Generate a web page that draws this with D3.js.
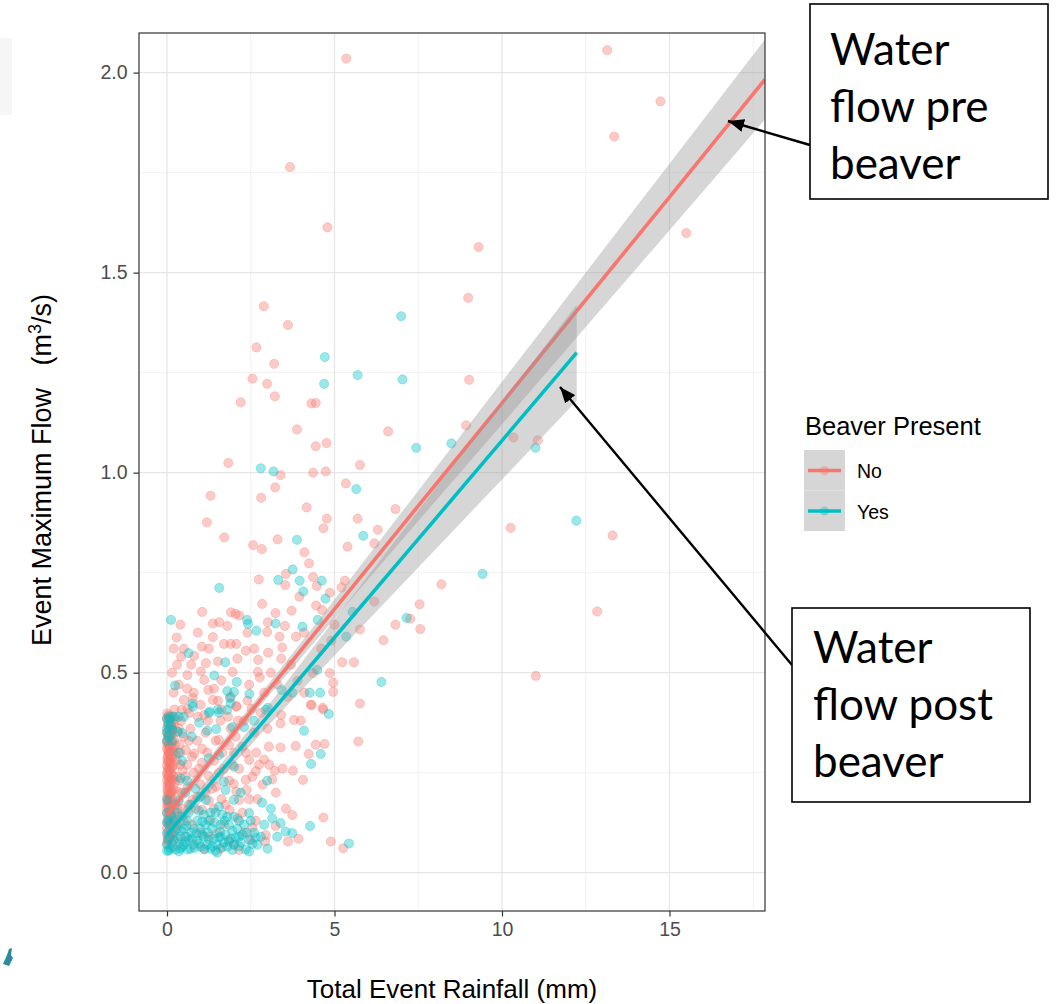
<!DOCTYPE html>
<html><head><meta charset="utf-8">
<script src="https://cdn.jsdelivr.net/npm/d3@7"></script>
<style>body{margin:0;background:#fff;} svg{display:block;}</style>
</head><body>
<svg id="chart" width="1059" height="1004"></svg>
<script>
// ---------- data ----------
const xTicks = [0, 5, 10, 15];
const yTicks = [0, 0.5, 1.0, 1.5, 2.0];
const xMinor = [2.5, 7.5, 12.5, 17.5];
const yMinor = [0.25, 0.75, 1.25, 1.75];
const groups = ["No", "Yes"];
const groupColors = ["#F8766D", "#00BFC4"];
const legendTitle = "Beaver Present";
const xTitle = "Total Event Rainfall (mm)";

// Beaver Present = No  [rainfall, max flow]
const noPoints = [
 [5.35,2.035],[3.67,1.764],[4.79,1.613],[2.89,1.416],[3.61,1.369],[2.67,1.313],[3.20,1.272],[2.55,1.235],[2.99,1.222],[3.22,1.191],
 [2.20,1.176],[4.31,1.173],[4.44,1.174],[3.88,1.108],[6.60,1.103],[4.44,1.066],[4.76,1.074],[1.83,1.024],[5.76,1.019],[4.36,1.000],
 [4.74,1.003],[3.39,0.994],[13.14,2.056],[14.73,1.928],[13.35,1.84],[9.30,1.564],[15.50,1.599],[8.99,1.437],[9.02,1.232],[8.93,1.118],
 [10.34,1.088],[11.07,1.081],[10.26,0.862],[13.30,0.843],[12.84,0.653],[11.01,0.492],
 [3.23,0.963],[1.30,0.942],[2.81,0.937],[5.34,0.973],[4.17,0.913],[4.77,0.885],[4.67,0.861],[5.69,0.885],[6.82,0.909],[6.29,0.857],
 [6.19,0.823],[5.39,0.815],[1.19,0.876],[1.71,0.838],[2.57,0.819],[2.83,0.809],[3.30,0.833],[4.10,0.801],[4.24,0.773],[2.74,0.733],
 [3.55,0.747],[3.53,0.719],[4.36,0.739],[4.47,0.717],[3.95,0.690],[4.86,0.700],[5.21,0.713],[5.31,0.730],[2.84,0.672],[3.72,0.655],
 [3.24,0.649],[4.45,0.668],[4.63,0.657],[6.19,0.678],[7.54,0.671],[8.19,0.721],[7.56,0.609],[6.82,0.620],[6.46,0.581],[5.76,0.608],
 [5.58,0.526],[5.23,0.526],[1.05,0.652],[1.91,0.651],[2.05,0.647],[2.16,0.643],[1.37,0.623],[1.56,0.626],[1.80,0.617],[3.01,0.626],
 [3.52,0.617],[2.99,0.602],[3.36,0.590],[3.85,0.590],[0.29,0.588],[1.37,0.589],[1.70,0.572],[1.90,0.572],[2.07,0.572],[1.04,0.565],
 [2.35,0.555],[3.02,0.550],[3.44,0.563],[0.81,0.542],[2.10,0.535],[2.72,0.532],[3.41,0.535],[1.16,0.524],[1.52,0.528],[1.01,0.503],
 [0.61,0.494],[1.96,0.502],[2.71,0.502],[4.36,0.499],[4.86,0.499],[1.11,0.482],[1.62,0.481],[2.45,0.470],[2.77,0.488],[4.96,0.475],
 [4.96,0.452],[1.23,0.457],[0.77,0.437],[0.50,0.432],[2.07,0.415],[4.29,0.420],[4.65,0.412],[5.76,0.423],[0.22,0.408],[7.26,0.635],
 [4.09,0.600],[3.70,0.520],[3.90,0.480],[4.10,0.450],[3.30,0.470],[3.60,0.440],[2.90,0.450],[3.10,0.500],[2.60,0.560],[4.60,0.560],
 [4.90,0.580],[5.00,0.620],[2.40,0.600],
 [5.71,0.328],[4.32,0.419],[4.66,0.408],[3.79,0.382],[3.99,0.380],[3.41,0.394],[3.39,0.373],[4.44,0.320],[4.70,0.322],[4.23,0.297],
 [3.84,0.317],[3.39,0.313],[3.04,0.315],[2.90,0.283],[2.66,0.300],[2.45,0.282],[2.25,0.315],[3.22,0.255],[3.76,0.255],[2.65,0.254],
 [4.06,0.232],[3.14,0.233],[2.35,0.232],[1.99,0.222],[2.07,0.203],[2.37,0.207],[2.45,0.184],[2.70,0.184],[2.15,0.182],[3.74,0.144],
 [4.67,0.138],[4.89,0.078],[5.26,0.061],[3.61,0.078],[3.92,0.085],[3.24,0.117],[2.95,0.094],[2.93,0.078],[2.15,0.057],[2.55,0.113],
 [2.11,0.136],[1.87,0.157],[1.63,0.184],[1.47,0.215],[1.25,0.242],[1.04,0.275],[0.81,0.298],[1.55,0.332],[1.85,0.319],[2.07,0.417],
 [1.63,0.408],[1.37,0.432],[1.11,0.394],[0.66,0.399],[0.44,0.407],[0.56,0.307],[0.46,0.257],[0.61,0.215],[0.76,0.182],[1.05,0.157],
 [1.30,0.132],[1.50,0.099],[1.85,0.082],[2.50,0.082],[0.36,0.074],[0.16,0.064],
 [0.00,0.072],[0.01,0.093],[0.00,0.112],[0.02,0.131],[0.00,0.148],[0.01,0.171],[0.00,0.188],[0.02,0.209],[0.00,0.231],[0.01,0.252],
 [0.00,0.268],[0.02,0.291],[0.00,0.309],[0.01,0.332],[0.00,0.351],[0.02,0.369],[0.00,0.386],[0.01,0.398],
 [0.05,0.082],[0.06,0.121],[0.05,0.163],[0.07,0.198],[0.05,0.242],[0.06,0.281],[0.05,0.322],[0.07,0.358],[0.05,0.391],
 [0.11,0.103],[0.10,0.142],[0.12,0.178],[0.10,0.221],[0.11,0.262],[0.10,0.301],[0.12,0.343],[0.10,0.378],
 [0.19,0.091],[0.21,0.152],[0.20,0.208],[0.18,0.268],[0.21,0.331],[0.20,0.372],
 [0.30,0.118],[0.31,0.203],[0.29,0.279],[0.32,0.352],
 [0.02,0.080],[0.04,0.101],[0.01,0.124],[0.03,0.139],[0.06,0.157],[0.02,0.178],[0.04,0.196],[0.01,0.218],[0.03,0.239],[0.06,0.259],
 [0.02,0.277],[0.04,0.299],[0.01,0.318],[0.03,0.341],[0.06,0.361],[0.02,0.378],[0.04,0.392],
 [0.08,0.086],[0.09,0.113],[0.13,0.128],[0.08,0.152],[0.14,0.166],[0.09,0.187],[0.13,0.203],[0.08,0.229],[0.14,0.247],[0.09,0.271],
 [0.13,0.288],[0.08,0.314],[0.14,0.327],[0.09,0.349],[0.13,0.366],[0.08,0.387],
 [0.16,0.098],[0.17,0.137],[0.16,0.184],[0.17,0.232],[0.16,0.286],[0.17,0.312],[0.16,0.356],[0.17,0.391],
 [0.24,0.107],[0.25,0.171],[0.23,0.226],[0.26,0.297],[0.24,0.318],[0.25,0.384],
 [0.35,0.140],[0.36,0.230],[0.37,0.320],[0.42,0.380],[0.45,0.160],[0.40,0.270],
 [0.00,0.162],[0.03,0.183],[0.01,0.203],[0.04,0.224],[0.00,0.246],[0.03,0.262],[0.01,0.284],[0.04,0.305],[0.00,0.326],[0.03,0.347],
 [0.07,0.173],[0.11,0.193],[0.07,0.214],[0.12,0.236],[0.07,0.255],[0.11,0.276],[0.07,0.296],[0.12,0.318],[0.07,0.338],[0.11,0.361],
 [0.15,0.204],[0.19,0.241],[0.15,0.262],[0.19,0.302],[0.14,0.347],
 [0.35,0.360],[0.50,0.340],[0.70,0.360],[0.90,0.330],[0.40,0.300],[0.60,0.270],[0.80,0.250],[1.00,0.220],[0.30,0.240],[0.45,0.200],
 [0.65,0.170],[0.90,0.190],[1.15,0.200],[0.30,0.160],[0.50,0.130],[0.75,0.120],[1.00,0.100],[1.25,0.090],[0.55,0.090],[0.80,0.070],
 [1.10,0.060],[1.60,0.060],[2.00,0.070],[2.30,0.100],[1.70,0.120],[1.40,0.160],[1.20,0.300],[1.40,0.280],[1.70,0.260],[2.00,0.300],
 [1.90,0.360],[2.30,0.380],[2.60,0.350],[2.80,0.400],[3.00,0.360],[1.60,0.380],[1.00,0.420],[0.80,0.450],[1.40,0.460],[1.90,0.440],
 [2.40,0.430],[0.35,0.470],[0.60,0.460],[0.30,0.520],[0.50,0.560],[0.15,0.500],[0.20,0.450],[0.40,0.620],
 [0.55,0.240],[0.65,0.330],[0.75,0.290],[0.85,0.160],[0.95,0.260],[1.05,0.310],[1.15,0.350],[1.25,0.180],[1.35,0.210],[1.45,0.330],
 [1.55,0.250],[1.65,0.300],[1.75,0.170],[1.85,0.230],[1.95,0.270],[2.05,0.340],[2.15,0.260],[2.25,0.150],[2.35,0.300],[2.55,0.240],
 [2.65,0.130],[2.75,0.270],[2.85,0.220],[3.05,0.270],[3.25,0.200],[3.45,0.260],[3.55,0.160],[0.62,0.410],[0.92,0.390],[1.22,0.380],
 [1.52,0.430],[1.82,0.390],[2.12,0.380],[2.52,0.410],[0.72,0.520],[0.92,0.600],[1.25,0.560],[0.42,0.540],[0.20,0.560]
];

// Beaver Present = Yes
const yesPoints = [
 [6.99,1.391],[4.71,1.289],[5.69,1.244],[7.03,1.233],[4.69,1.222],[7.44,1.062],[8.49,1.073],[2.80,1.011],[3.18,1.003],[11.00,1.062],
 [12.22,0.880],[9.42,0.747],[5.65,0.959],[3.88,0.832],[5.86,0.842],[3.75,0.758],[3.32,0.732],[3.96,0.730],[4.62,0.730],[4.07,0.703],
 [4.73,0.685],[1.56,0.712],[0.12,0.632],[2.39,0.632],[2.42,0.622],[2.67,0.605],[3.24,0.623],[4.04,0.615],[4.50,0.632],[7.15,0.637],
 [5.54,0.652],[5.35,0.590],[0.64,0.549],[1.74,0.526],[1.41,0.493],[0.24,0.468],[2.08,0.477],[1.80,0.454],[2.00,0.452],[1.88,0.437],
 [2.46,0.447],[3.42,0.457],[3.74,0.450],[4.26,0.450],[4.57,0.450],[6.40,0.477],[4.83,0.397],[3.01,0.412],[1.27,0.403],[0.77,0.415],
 [0.06,0.384],[1.52,0.408],[4.48,0.507],[5.43,0.073],
 [0.16,0.357],[0.31,0.353],[0.96,0.375],[1.25,0.399],[1.55,0.400],[1.80,0.407],[1.90,0.423],[0.76,0.423],[0.46,0.349],[0.74,0.340],
 [1.20,0.355],[1.47,0.359],[1.95,0.364],[2.30,0.364],[2.60,0.380],[2.95,0.407],[4.09,0.355],[4.59,0.297],[4.30,0.272],[2.99,0.230],
 [1.25,0.286],[1.55,0.294],[2.00,0.265],[1.70,0.228],[1.75,0.207],[0.41,0.236],[0.00,0.182],[2.00,0.182],[2.84,0.175],
 [2.45,0.149],[3.14,0.136],[3.39,0.124],[3.29,0.090],[3.54,0.103],[3.74,0.099],[4.27,0.117],[2.45,0.053],[2.45,0.082],[2.15,0.090],
 [0.36,0.053],[0.66,0.082],
 [0.90,0.080],[1.00,0.065],[1.10,0.090],[1.20,0.070],[1.30,0.060],[1.40,0.085],[1.50,0.070],[1.60,0.090],[1.70,0.075],[1.80,0.065],
 [1.90,0.085],[2.00,0.070],[2.20,0.075],[0.70,0.060],[0.50,0.070],[0.40,0.090],[0.30,0.110],[0.20,0.080],[0.10,0.060],[0.00,0.070],
 [0.00,0.100],[0.05,0.130],[0.00,0.150],[0.20,0.130],[0.30,0.150],[0.50,0.110],[0.60,0.130],[0.80,0.110],
 [0.90,0.130],[1.00,0.110],[1.15,0.120],[1.35,0.110],[1.60,0.120],[1.85,0.119],[1.55,0.165],[1.16,0.182],[1.00,0.190],[0.70,0.170],
 [0.85,0.210],[0.55,0.200],[0.00,0.360],[0.00,0.330],[0.10,0.390],[1.30,0.150],[1.80,0.140],[2.30,0.120],
 [2.60,0.100],[2.70,0.070],[2.90,0.120],[3.10,0.160],[2.20,0.200],[0.40,0.060],[0.60,0.090],[1.50,0.050],[2.10,0.110],
 [0.35,0.300],[0.15,0.330],[0.50,0.390],[0.00,0.385],[0.05,0.370],[0.00,0.350],
 [0.05,0.055],[0.15,0.072],[0.25,0.058],[0.32,0.085],[0.45,0.065],[0.55,0.078],[0.62,0.058],[0.75,0.085],[0.82,0.062],[0.95,0.073],
 [1.05,0.095],[1.12,0.058],[1.25,0.083],[1.35,0.066],[1.45,0.055],[1.55,0.088],[1.65,0.064],[1.75,0.095],[1.85,0.078],[1.95,0.057],
 [2.05,0.088],[2.15,0.066],[2.25,0.095],[2.35,0.058],[2.55,0.072],[2.65,0.088],[0.15,0.098],[0.28,0.125],[0.42,0.105],[0.58,0.118],
 [0.72,0.100],[0.88,0.098],[1.05,0.128],[1.22,0.100],[1.42,0.125],[1.58,0.102],[1.72,0.130],[1.95,0.105],[2.15,0.130],[2.38,0.100],
 [0.10,0.120],[0.00,0.125],[0.02,0.085],[0.08,0.090],[0.00,0.055],[0.12,0.145],[0.35,0.180],[0.45,0.140],[0.65,0.150],
 [0.95,0.155],[1.10,0.145],[1.25,0.130],[1.45,0.150],[1.65,0.145],[2.00,0.140],[2.50,0.130],[2.80,0.090],[3.00,0.060],
 [0.60,0.230],[0.45,0.280],[0.05,0.340],[0.12,0.370],[0.22,0.390],[0.35,0.390]
];

// linear fits with 95% confidence band
const fitXNo   = [0, 2.5, 5, 7.5, 10, 12.5, 15, 17.85];
const fitYNo   = [0.144, 0.402, 0.659, 0.917, 1.174, 1.432, 1.689, 1.983];
const lowerNo  = [0.129, 0.388, 0.635, 0.879, 1.121, 1.364, 1.606, 1.883];
const upperNo  = [0.159, 0.416, 0.683, 0.955, 1.227, 1.500, 1.772, 2.083];
const fitXYes  = [0, 2.5, 5, 7.5, 10, 12.23];
const fitYYes  = [0.095, 0.341, 0.588, 0.834, 1.080, 1.300];
const lowerYes = [0.077, 0.319, 0.543, 0.763, 0.983, 1.180];
const upperYes = [0.113, 0.363, 0.633, 0.905, 1.177, 1.420];

const notePre  = ["Water", "flow pre", "beaver"];
const notePost = ["Water", "flow post", "beaver"];

// ---------- drawing ----------
const svg = d3.select("#chart");
const P = {l:139, r:765, t:33, b:911};
const x = d3.scaleLinear().domain([-0.836, 17.851]).range([P.l, P.r]);
const y = d3.scaleLinear().domain([-0.0957, 2.099]).range([P.b, P.t]);

svg.append("rect").attr("width",1059).attr("height",1004).attr("fill","#fff");
// faint artefacts at the left margin
svg.append("rect").attr("x",0).attr("y",38).attr("width",12).attr("height",77).attr("fill","#f6f6f6");
svg.append("path").attr("d","M3,964 L7,955 L9,949 L12,948 L11,955 L13,958 L9,966 Z").attr("fill","#2b8a9c");

svg.append("defs").append("clipPath").attr("id","clip")
  .append("rect").attr("x",P.l).attr("y",P.t).attr("width",P.r-P.l).attr("height",P.b-P.t);

const gGrid = svg.append("g");
gGrid.selectAll(".vmin").data(xMinor).join("line")
  .attr("x1",d=>x(d)).attr("x2",d=>x(d)).attr("y1",P.t).attr("y2",P.b)
  .attr("stroke","#eeeeee").attr("stroke-width",0.8);
gGrid.selectAll(".hmin").data(yMinor).join("line")
  .attr("y1",d=>y(d)).attr("y2",d=>y(d)).attr("x1",P.l).attr("x2",P.r)
  .attr("stroke","#eeeeee").attr("stroke-width",0.8);
gGrid.selectAll(".vmaj").data(xTicks).join("line")
  .attr("x1",d=>x(d)).attr("x2",d=>x(d)).attr("y1",P.t).attr("y2",P.b)
  .attr("stroke","#e6e6e6").attr("stroke-width",1.3);
gGrid.selectAll(".hmaj").data(yTicks).join("line")
  .attr("y1",d=>y(d)).attr("y2",d=>y(d)).attr("x1",P.l).attr("x2",P.r)
  .attr("stroke","#e6e6e6").attr("stroke-width",1.3);

const gData = svg.append("g").attr("clip-path","url(#clip)");
function drawPoints(pts, color){
  gData.append("g").selectAll("circle").data(pts).join("circle")
    .attr("cx",d=>x(d[0])).attr("cy",d=>y(d[1])).attr("r",4.6)
    .attr("fill",color).attr("fill-opacity",0.38)
    .attr("stroke",color).attr("stroke-opacity",0.3).attr("stroke-width",1);
}
drawPoints(noPoints, groupColors[0]);
drawPoints(yesPoints, groupColors[1]);

function drawFit(xs, fit, lo, hi, color){
  const band = xs.map((v,i)=>({x:v, lo:lo[i], hi:hi[i]}));
  gData.append("path").datum(band)
    .attr("d", d3.area().x(d=>x(d.x)).y0(d=>y(d.lo)).y1(d=>y(d.hi)).curve(d3.curveMonotoneX))
    .attr("fill","#999999").attr("fill-opacity",0.4);
  const line = xs.map((v,i)=>({x:v, y:fit[i]}));
  gData.append("path").datum(line)
    .attr("d", d3.line().x(d=>x(d.x)).y(d=>y(d.y)))
    .attr("fill","none").attr("stroke",color).attr("stroke-width",3.6);
}
drawFit(fitXNo, fitYNo, lowerNo, upperNo, groupColors[0]);
drawFit(fitXYes, fitYYes, lowerYes, upperYes, groupColors[1]);

// panel border
svg.append("rect").attr("x",P.l).attr("y",P.t).attr("width",P.r-P.l).attr("height",P.b-P.t)
  .attr("fill","none").attr("stroke","#333333").attr("stroke-width",1.2);

// axes
const ax = svg.append("g").attr("transform",`translate(0,${P.b})`)
  .call(d3.axisBottom(x).tickValues(xTicks).tickFormat(d3.format("d")).tickSize(5.5).tickPadding(6));
const ay = svg.append("g").attr("transform",`translate(${P.l},0)`)
  .call(d3.axisLeft(y).tickValues(yTicks).tickFormat(d3.format(".1f")).tickSize(5.5).tickPadding(6));
[ax, ay].forEach(g=>{
  g.select(".domain").remove();
  g.selectAll(".tick line").attr("stroke","#333333").attr("stroke-width",1.2);
  g.selectAll(".tick text").attr("fill","#4d4d4d").attr("font-family","Liberation Sans, Arial, sans-serif").attr("font-size",19.5);
});

// axis titles
svg.append("text").attr("x",(P.l+P.r)/2).attr("y",998).attr("text-anchor","middle")
  .attr("font-family","Liberation Sans, Arial, sans-serif").attr("font-size",26).attr("fill","#000")
  .text(xTitle);
const yt = svg.append("text").attr("transform",`translate(51,${(P.t+P.b)/2 - 2}) rotate(-90)`)
  .attr("text-anchor","middle").attr("font-family","Liberation Sans, Arial, sans-serif")
  .attr("font-size",27).attr("fill","#000");
yt.append("tspan").text("Event Maximum Flow\u00a0\u00a0\u00a0(m");
yt.append("tspan").attr("font-size",18).attr("dy",-10).text("3");
yt.append("tspan").attr("dy",10).text("/s)");

// legend
const lg = svg.append("g");
lg.append("text").attr("x",805).attr("y",435).attr("font-family","Liberation Sans, Arial, sans-serif")
  .attr("font-size",25.5).attr("fill","#000").text(legendTitle);
groups.forEach((g,i)=>{
  const ky = 450 + i*40.5;
  lg.append("rect").attr("x",804).attr("y",ky).attr("width",41).attr("height",40.5).attr("fill","#d6d6d6");
  lg.append("circle").attr("cx",824.5).attr("cy",ky+20.5).attr("r",4.6).attr("fill",groupColors[i]).attr("fill-opacity",0.38);
  lg.append("line").attr("x1",808).attr("x2",841).attr("y1",ky+20.5).attr("y2",ky+20.5)
    .attr("stroke",groupColors[i]).attr("stroke-width",3.6);
  lg.append("text").attr("x",857).attr("y",ky+28).attr("font-family","Liberation Sans, Arial, sans-serif")
    .attr("font-size",19.5).attr("fill","#000").text(g);
});

// annotations
svg.append("defs").append("marker").attr("id","arrow").attr("viewBox","0 0 16 13")
  .attr("refX",16).attr("refY",6.5).attr("markerWidth",16).attr("markerHeight",13)
  .attr("markerUnits","userSpaceOnUse").attr("orient","auto")
  .append("path").attr("d","M0,0 L16,6.5 L0,13 Z").attr("fill","#000");
function note(bx, by, bw, bh, tx, lines, baseY, lineH){
  svg.append("rect").attr("x",bx).attr("y",by).attr("width",bw).attr("height",bh)
    .attr("fill","#fff").attr("stroke","#000").attr("stroke-width",1.6);
  lines.forEach((s,i)=>svg.append("text").attr("x",tx).attr("y",baseY+i*lineH)
    .attr("font-family","Lato, 'Open Sans', sans-serif").attr("font-size",44).attr("fill","#000").text(s));
}
svg.append("line").attr("x1",810).attr("y1",145).attr("x2",728).attr("y2",121)
  .attr("stroke","#000").attr("stroke-width",2.4).attr("marker-end","url(#arrow)");
svg.append("line").attr("x1",792).attr("y1",665).attr("x2",560).attr("y2",387)
  .attr("stroke","#000").attr("stroke-width",2.4).attr("marker-end","url(#arrow)");
note(810, 4, 238, 195, 830, notePre, 65, 57);
note(792, 608, 238, 194, 813, notePost, 663, 57);
</script>
</body></html>
